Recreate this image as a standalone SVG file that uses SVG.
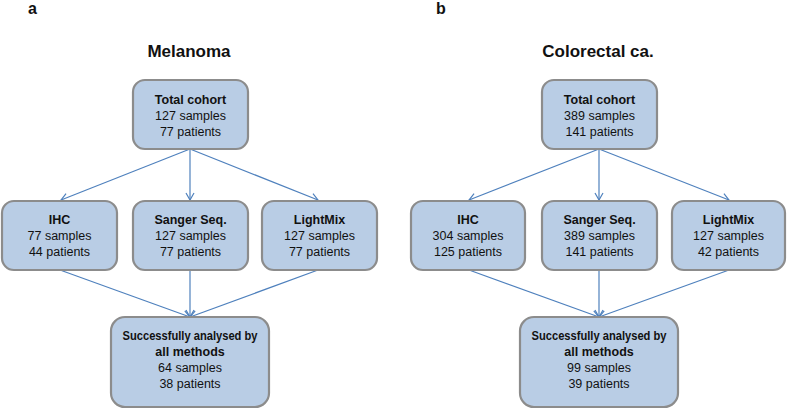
<svg xmlns="http://www.w3.org/2000/svg" width="787" height="409" viewBox="0 0 787 409">
<defs>
<marker id="ah" markerWidth="10" markerHeight="10" refX="8" refY="5" orient="auto" markerUnits="userSpaceOnUse">
<path d="M1,1 L8,5 L1,9" fill="none" stroke="#4f81bd" stroke-width="1.2"/>
</marker>
</defs>
<style>
.box{fill:#b9cde5;stroke:#8c8c8c;stroke-width:2.2}
.t{font-family:"Liberation Sans",Arial,sans-serif;font-size:12.5px;fill:#111;text-anchor:middle}
.b{font-weight:bold}
.ttl{font-family:"Liberation Sans",Arial,sans-serif;font-size:17px;font-weight:bold;fill:#111;text-anchor:middle}
.lbl{font-family:"Liberation Sans",Arial,sans-serif;font-size:16px;font-weight:bold;fill:#111}
.c{fill:none;stroke:#4f81bd;stroke-width:1.2;marker-end:url(#ah)}
</style>
<rect width="787" height="409" fill="#ffffff"/>
<text class="lbl" x="28" y="14">a</text>
<text class="lbl" x="436" y="14">b</text>
<text class="ttl" x="189" y="57">Melanoma</text>
<text class="ttl" x="598" y="57">Colorectal ca.</text>
<g id="connectors">
<line class="c" x1="190" y1="149" x2="61" y2="200"/>
<line class="c" x1="190" y1="149" x2="190" y2="200"/>
<line class="c" x1="190" y1="149" x2="318" y2="200"/>
<line class="c" x1="60" y1="270" x2="190" y2="317"/>
<line class="c" x1="190" y1="270" x2="190" y2="317"/>
<line class="c" x1="318" y1="270" x2="190" y2="317"/>
<line class="c" x1="599" y1="149" x2="469" y2="200"/>
<line class="c" x1="599" y1="149" x2="599" y2="200"/>
<line class="c" x1="599" y1="149" x2="729" y2="200"/>
<line class="c" x1="469" y1="270" x2="599" y2="317"/>
<line class="c" x1="599" y1="270" x2="599" y2="317"/>
<line class="c" x1="729" y1="270" x2="599" y2="317"/>
</g>
<g id="a-total">
<rect class="box" x="133" y="80" width="115" height="69" rx="12"/>
<text class="t b" x="190.5" y="104">Total cohort</text>
<text class="t" x="190.5" y="120">127 samples</text>
<text class="t" x="190.5" y="136">77 patients</text>
</g>
<g id="a-ihc">
<rect class="box" x="2" y="201" width="115" height="69" rx="12"/>
<text class="t b" x="59.5" y="224">IHC</text>
<text class="t" x="59.5" y="240">77 samples</text>
<text class="t" x="59.5" y="256">44 patients</text>
</g>
<g id="a-sanger">
<rect class="box" x="133" y="201" width="115" height="69" rx="12"/>
<text class="t b" x="190.5" y="224">Sanger Seq.</text>
<text class="t" x="190.5" y="240">127 samples</text>
<text class="t" x="190.5" y="256">77 patients</text>
</g>
<g id="a-lightmix">
<rect class="box" x="262" y="201" width="115" height="69" rx="12"/>
<text class="t b" x="319.5" y="224">LightMix</text>
<text class="t" x="319.5" y="240">127 samples</text>
<text class="t" x="319.5" y="256">77 patients</text>
</g>
<g id="a-success">
<rect class="box" x="111" y="317" width="158" height="90" rx="14"/>
<text class="t b" x="190" y="340" textLength="135" lengthAdjust="spacingAndGlyphs">Successfully analysed by</text>
<text class="t b" x="190" y="356">all methods</text>
<text class="t" x="190" y="372">64 samples</text>
<text class="t" x="190" y="388">38 patients</text>
</g>
<g id="b-total">
<rect class="box" x="542" y="80" width="115" height="69" rx="12"/>
<text class="t b" x="599.5" y="104">Total cohort</text>
<text class="t" x="599.5" y="120">389 samples</text>
<text class="t" x="599.5" y="136">141 patients</text>
</g>
<g id="b-ihc">
<rect class="box" x="411" y="201" width="114" height="69" rx="12"/>
<text class="t b" x="468" y="224">IHC</text>
<text class="t" x="468" y="240">304 samples</text>
<text class="t" x="468" y="256">125 patients</text>
</g>
<g id="b-sanger">
<rect class="box" x="542" y="201" width="115" height="69" rx="12"/>
<text class="t b" x="599.5" y="224">Sanger Seq.</text>
<text class="t" x="599.5" y="240">389 samples</text>
<text class="t" x="599.5" y="256">141 patients</text>
</g>
<g id="b-lightmix">
<rect class="box" x="672" y="201" width="113" height="69" rx="12"/>
<text class="t b" x="728.5" y="224">LightMix</text>
<text class="t" x="728.5" y="240">127 samples</text>
<text class="t" x="728.5" y="256">42 patients</text>
</g>
<g id="b-success">
<rect class="box" x="520" y="317" width="158" height="90" rx="14"/>
<text class="t b" x="599" y="340" textLength="135" lengthAdjust="spacingAndGlyphs">Successfully analysed by</text>
<text class="t b" x="599" y="356">all methods</text>
<text class="t" x="599" y="372">99 samples</text>
<text class="t" x="599" y="388">39 patients</text>
</g>
</svg>
